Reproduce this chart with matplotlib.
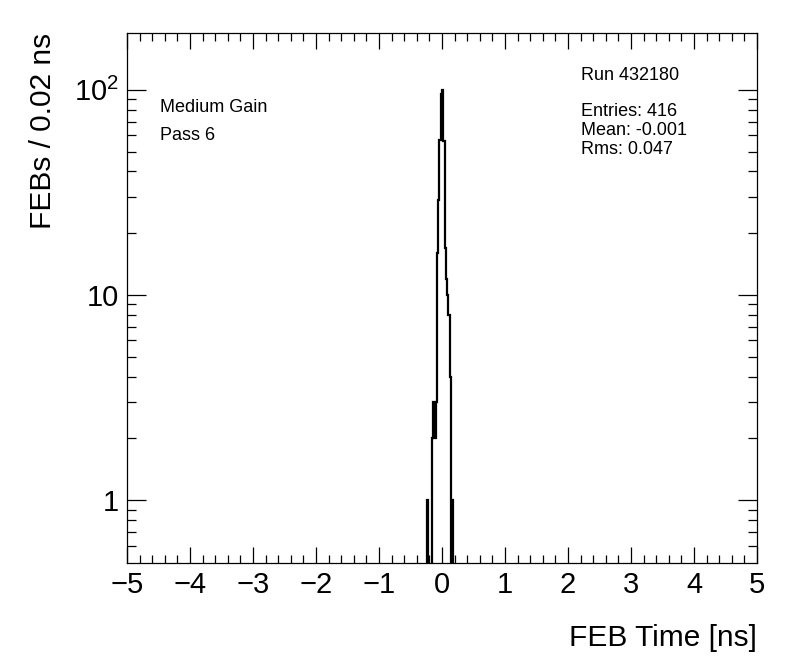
import numpy as np
import matplotlib
matplotlib.use("Agg")
import matplotlib.pyplot as plt
from matplotlib.ticker import FixedLocator, FixedFormatter, MultipleLocator

plt.rcParams['font.family'] = ['Liberation Sans', 'DejaVu Sans']
plt.rcParams['mathtext.default'] = 'regular'

# FEB time histogram (bin width 0.02 ns), counts
bin_centers = [-0.23, -0.21, -0.19, -0.17, -0.15, -0.13, -0.11, -0.09, -0.07, -0.05,
               -0.03, -0.01, 0.01, 0.03, 0.05, 0.07, 0.09, 0.11, 0.13, 0.15, 0.17]
counts = [1, 0, 0, 0, 2, 3, 2, 3, 16, 29,
          57, 95, 100, 56, 17, 12, 10, 8, 4, 0, 1]
bin_width = 0.02

y_ticks = [1, 10, 100]
y_tick_labels = ['1', '10', '10$^{2}$']
minor_y = [0.6, 0.7, 0.8, 0.9, 2, 3, 4, 5, 6, 7, 8, 9, 20, 30, 40, 50, 60, 70, 80, 90]

left_text = ['Medium Gain', 'Pass 6']
run_text = 'Run 432180'
stats_text = ['Entries: 416', 'Mean: -0.001', 'Rms: 0.047']

fig = plt.figure(figsize=(7.96, 6.72), dpi=100)
ax = fig.add_axes([127 / 796, 1 - 563 / 672, (757 - 127) / 796, (563 - 33) / 672])

centers = np.array(bin_centers)
edges = np.append(centers - bin_width / 2, centers[-1] + bin_width / 2)
vals = np.where(np.array(counts) > 0, counts, 1e-3)
ax.stairs(vals, edges, baseline=1e-3, color='black', lw=1.6)

ax.set_yscale('log')
ax.set_xlim(-5, 5)
ax.set_ylim(0.494, 189)

ax.xaxis.set_major_locator(MultipleLocator(1))
ax.xaxis.set_minor_locator(MultipleLocator(0.2))
ax.yaxis.set_major_locator(FixedLocator(y_ticks))
ax.yaxis.set_major_formatter(FixedFormatter(y_tick_labels))
ax.yaxis.set_minor_locator(FixedLocator(minor_y))
ax.yaxis.set_minor_formatter(FixedFormatter([''] * len(minor_y)))

ax.tick_params(which='both', direction='in', top=True, right=True, width=0.9)
ax.tick_params(axis='x', which='major', length=11.5, labelsize=21, pad=6)
ax.tick_params(axis='x', which='minor', length=5.5)
ax.tick_params(axis='y', which='major', length=13.5, labelsize=21, pad=6)
ax.tick_params(axis='y', which='minor', length=6.5)
for s in ax.spines.values():
    s.set_linewidth(0.9)

ax.set_xlabel('FEB Time [ns]', fontsize=21.5, loc='right')
ax.xaxis.set_label_coords(1.0, -0.116)
ax.set_ylabel('FEBs / 0.02 ns', fontsize=21.5, loc='top')
ax.yaxis.set_label_coords(-0.111, 1.0)

fig.text(160 / 796, 1 - 107 / 672, left_text[0], fontsize=13, va='center')
fig.text(160 / 796, 1 - 135 / 672, left_text[1], fontsize=13, va='center')
fig.text(581 / 796, 1 - 75 / 672, run_text, fontsize=13, va='center')
for i, t in enumerate(stats_text):
    fig.text(581 / 796, 1 - (112 + i * 18.5) / 672, t, fontsize=13, va='center')

fig.savefig('out.png', dpi=100)
